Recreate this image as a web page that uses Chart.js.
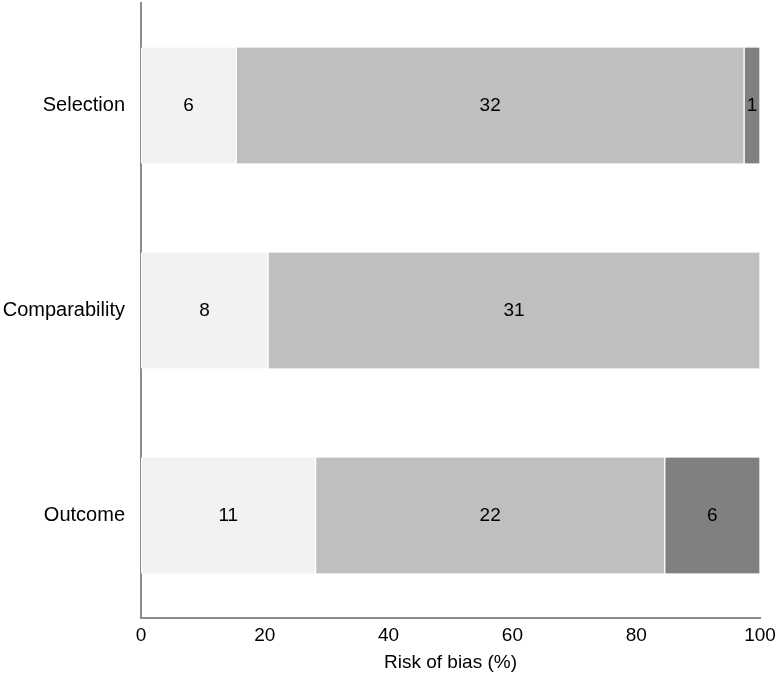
<!DOCTYPE html>
<html>
<head>
<meta charset="utf-8">
<script src="https://cdn.jsdelivr.net/npm/chart.js@4"></script>
<style>
  html, body { margin: 0; padding: 0; background: #fff; }
  #wrap { width: 776px; height: 688px; }
</style>
</head>
<body>
<div id="wrap"><canvas id="biasChart" width="776" height="688"></canvas></div>
<script>
// domains and study counts per risk level
const domains = ["Selection", "Comparability", "Outcome"];
const lowRisk = [6, 8, 11];
const moderateRisk = [32, 31, 22];
const highRisk = [1, 0, 6];
const xTicks = [0, 20, 40, 60, 80, 100];

const totals = domains.map((d, i) => lowRisk[i] + moderateRisk[i] + highRisk[i]);
const pct = (arr) => arr.map((v, i) => (v / totals[i]) * 100);
const counts = [lowRisk, moderateRisk, highRisk];

const FONT = "'Liberation Sans', Arial, Helvetica, sans-serif";
const AXIS = "#8c8c8c";

// draws the study count in the middle of each segment
const countLabels = {
  id: "countLabels",
  afterDatasetsDraw(chart) {
    const ctx = chart.ctx;
    ctx.save();
    ctx.fillStyle = "#000";
    ctx.font = "19px " + FONT;
    ctx.textAlign = "center";
    ctx.textBaseline = "middle";
    chart.data.datasets.forEach((ds, di) => {
      chart.getDatasetMeta(di).data.forEach((bar, i) => {
        const n = counts[di][i];
        if (!n) return;
        ctx.fillText(String(n), (bar.x + bar.base) / 2, bar.y);
      });
    });
    ctx.restore();
  }
};

new Chart(document.getElementById("biasChart"), {
  type: "bar",
  data: {
    labels: domains,
    datasets: [
      { label: "Low", data: pct(lowRisk), backgroundColor: "#f2f2f2" },
      { label: "Moderate", data: pct(moderateRisk), backgroundColor: "#bfbfbf" },
      { label: "High", data: pct(highRisk), backgroundColor: "#808080" },
    ].map(d => Object.assign(d, {
      borderColor: "#ffffff",
      borderWidth: { left: 1, right: 1, top: 0, bottom: 0 },
      borderSkipped: false,
      barThickness: 116,
    })),
  },
  options: {
    indexAxis: "y",
    responsive: false,
    animation: false,
    layout: { padding: { top: 3, right: 16, left: 0, bottom: 0 } },
    plugins: { legend: { display: false }, tooltip: { enabled: false } },
    scales: {
      x: {
        stacked: true,
        min: 0,
        max: 100,
        afterBuildTicks(axis) { axis.ticks = xTicks.map(v => ({ value: v })); },
        grid: { display: false, drawTicks: false },
        border: { display: true, color: AXIS, width: 2 },
        ticks: { color: "#000", font: { family: FONT, size: 19 }, padding: 6, maxRotation: 0 },
        title: { display: true, text: "Risk of bias (%)", color: "#000", font: { family: FONT, size: 19 }, padding: { top: 8, bottom: 14 } },
        afterFit(axis) { axis.height = 70; axis.paddingLeft = 0; axis.paddingRight = 0; },
      },
      y: {
        stacked: true,
        grid: { display: false, drawTicks: false },
        border: { display: true, color: AXIS, width: 2 },
        ticks: { color: "#000", font: { family: FONT, size: 20 }, padding: 16 },
        afterFit(axis) { axis.width = 141; axis.paddingTop = 0; axis.paddingBottom = 0; },
      },
    },
  },
  plugins: [countLabels],
});
</script>
</body>
</html>
